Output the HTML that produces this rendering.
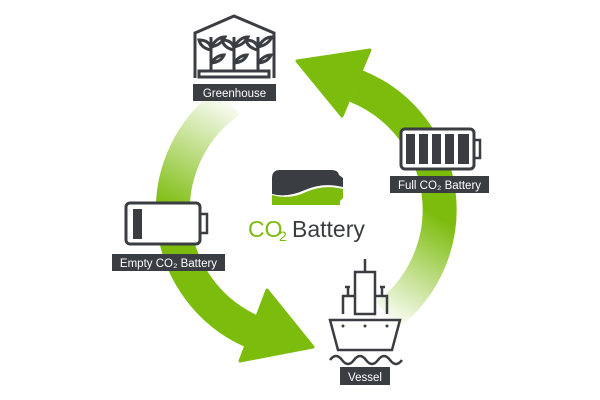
<!DOCTYPE html>
<html><head><meta charset="utf-8"><style>
html,body{margin:0;padding:0;background:#fff;}
svg{display:block}
text{font-family:"Liberation Sans",sans-serif;}
</style></head><body>
<svg width="600" height="400" viewBox="0 0 600 400" xmlns="http://www.w3.org/2000/svg">
<defs>
<linearGradient id="gl" gradientUnits="userSpaceOnUse" x1="235" y1="100" x2="175" y2="215">
<stop offset="0" stop-color="#7cbc0c" stop-opacity="0"/><stop offset="1" stop-color="#7cbc0c"/></linearGradient>
<linearGradient id="gr" gradientUnits="userSpaceOnUse" x1="385" y1="322" x2="445" y2="220">
<stop offset="0" stop-color="#7cbc0c" stop-opacity="0"/><stop offset="1" stop-color="#7cbc0c"/></linearGradient>
</defs>
<path d="M229.7 100.9 A133 133 0 0 0 251.9 331.5" fill="none" stroke="url(#gl)" stroke-width="34"/>
<polygon points="267,290 313,347 240,361" fill="#7cbc0c" stroke="#7cbc0c" stroke-width="3" stroke-linejoin="round"/>
<path d="M386.7 315.7 A133 133 0 0 0 356 86" fill="none" stroke="url(#gr)" stroke-width="34"/>
<polygon points="370,50 297,61 342,116" fill="#7cbc0c" stroke="#7cbc0c" stroke-width="3" stroke-linejoin="round"/>

<g fill="none" stroke="#3a3d42" stroke-width="3">
<path d="M195 78 V33 L234 16 L274 33 V78"/>
<rect x="199" y="71" width="70" height="6"/>
<path d="M211 71 V37 M234 71 V37 M258 71 V37"/>
<path d="M211 50 q-10 -2 -12 -10 q10 0 12 8 M211 47 q6 -10 14 -10 q-4 8 -14 10 M211 63 q6 -8 13 -8 q-3 7 -13 8"/>
<path d="M234 50 q-10 -2 -12 -10 q10 0 12 8 M234 47 q6 -10 14 -10 q-4 8 -14 10 M234 63 q6 -8 13 -8 q-3 7 -13 8"/>
<path d="M258 50 q-10 -2 -12 -10 q10 0 12 8 M258 47 q6 -10 14 -10 q-4 8 -14 10 M258 63 q6 -8 13 -8 q-3 7 -13 8"/>
</g>
<rect x="193" y="84" width="83" height="17" fill="#3a3d42"/>
<text x="234.5" y="97" font-size="11.5" fill="#fff" text-anchor="middle">Greenhouse</text>

<rect x="401" y="129" width="73" height="40" rx="4" fill="#fff" stroke="#3a3d42" stroke-width="3"/>
<rect x="474" y="140" width="6" height="18" fill="none" stroke="#3a3d42" stroke-width="2.5"/>
<g fill="#3a3d42"><rect x="406" y="134" width="9" height="30"/><rect x="419" y="134" width="9" height="30"/><rect x="432" y="134" width="9" height="30"/><rect x="445" y="134" width="9" height="30"/><rect x="458" y="134" width="11" height="30"/></g>
<rect x="390" y="176" width="99" height="17" fill="#3a3d42"/>
<text x="439.5" y="189" font-size="11.5" fill="#fff" text-anchor="middle">Full CO₂ Battery</text>

<rect x="126" y="203" width="74" height="41" rx="4" fill="#fff" stroke="#3a3d42" stroke-width="3"/>
<rect x="200" y="214" width="7" height="19" fill="none" stroke="#3a3d42" stroke-width="2.5"/>
<rect x="133" y="209" width="9" height="30" fill="#3a3d42"/>
<rect x="112" y="254" width="113" height="17" fill="#3a3d42"/>
<text x="168.5" y="267" font-size="11.5" fill="#fff" text-anchor="middle">Empty CO₂ Battery</text>

<g fill="none" stroke="#3a3d42" stroke-width="2.5">
<path d="M365 259 V272"/>
<rect x="355" y="272" width="20" height="42"/>
<path d="M343 314 V296 h12 M387 314 V296 h-12"/>
<path d="M348 296 V287 M382 296 V287 M345 287 h5 M380 287 h5"/>
<path d="M330 320 h70 l-8 30 h-54 z"/>
<path d="M330 360 q6 -8 12 0 q6 8 12 0 q6 -8 12 0 q6 8 12 0 q6 -8 12 0 q6 8 12 0"/>
</g>
<g fill="#3a3d42"><circle cx="343" cy="326" r="1.5"/><circle cx="365" cy="326" r="1.5"/><circle cx="387" cy="326" r="1.5"/></g>
<rect x="340" y="367" width="50" height="18" fill="#3a3d42"/>
<text x="365" y="381" font-size="11.5" fill="#fff" text-anchor="middle">Vessel</text>

<path d="M272 178 q0 -8 8 -8 h52 q6 0 7 5 l4 3 v9 q-20 -5 -38 3 q-18 8 -33 4 z" fill="#3a3d42"/>
<path d="M272 195 q18 5 34 -3 q18 -8 37 -3 v9 l-3 3 v4 h-68 z" fill="#7cbc0c"/>
<text x="248" y="237" font-size="23" fill="#7cbc0c">CO</text>
<text x="279" y="241" font-size="14" fill="#7cbc0c">2</text>
<text x="292" y="237" font-size="23" fill="#3a3d42">Battery</text>
</svg>
</body></html>
